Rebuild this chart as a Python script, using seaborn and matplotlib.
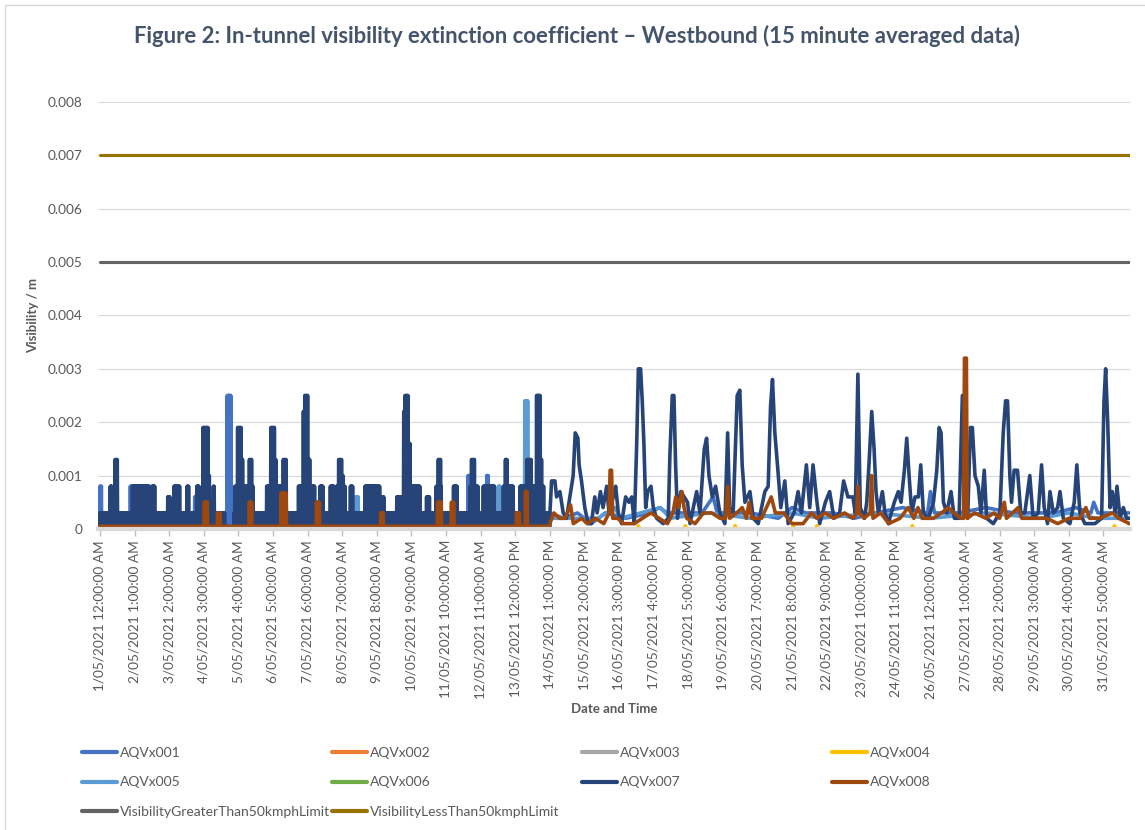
import matplotlib.pyplot as plt
import numpy as np
import pandas as pd
import seaborn as sns
from matplotlib.lines import Line2D
from matplotlib.patches import Rectangle

START = pd.Timestamp("2021-05-01 00:00")
STEP_HOURS = 0.25          # 15 minute averages
END_HOUR = 743.75          # last sample, 31/05 11:45 PM
SWITCH_HOUR = 325          # coarse (quantised) logging before this hour
TICK_EVERY_HOURS = 25      # Excel category axis: label every 100 points
N_TICKS = 30

SERIES_NAMES = ["AQVx001", "AQVx002", "AQVx003", "AQVx004",
                "AQVx005", "AQVx006", "AQVx007", "AQVx008"]
SERIES_COLORS = ["#4472C4", "#ED7D31", "#A5A5A5", "#FFC000",
                 "#5B9BD5", "#70AD47", "#264478", "#9E480E"]
LIMIT_NAMES = ["VisibilityGreaterThan50kmphLimit", "VisibilityLessThan50kmphLimit"]
LIMIT_VALUES = [0.005, 0.007]
LIMIT_COLORS = ["#636363", "#997300"]

# early period: readings flicker between a low value and the level below
# (base level, low level, [(start hour, end hour, level)])
AQV001_EARLY = (0.0003, 0.0, [
    (0.0, 1.5, 0.0008), (21.7, 23.4, 0.0008), (68.5, 70.0, 0.0006),
    (92.0, 95.0, 0.0025), (266.0, 268.0, 0.0010), (279.4, 281.0, 0.0010),
])
AQV005_EARLY = (0.0, 0.0, [
    (185.0, 186.6, 0.0006), (287.6, 289.5, 0.0008), (307.0, 309.5, 0.0024),
])
AQV007_EARLY = (0.0003, 0.0, [
    (7.2, 8.7, 0.0008), (10.8, 12.8, 0.0013), (23.4, 36.0, 0.0008),
    (37.3, 39.7, 0.0008), (48.9, 51.0, 0.0006), (53.5, 57.8, 0.0008),
    (62.6, 64.5, 0.0008), (69.8, 71.7, 0.0008), (74.5, 78.2, 0.0019),
    (78.2, 79.5, 0.0010), (81.9, 83.0, 0.0008), (90.5, 97.0, 0.0),
    (97.5, 99.2, 0.0008), (99.2, 102.4, 0.0019), (102.4, 103.5, 0.0013),
    (103.5, 107.9, 0.0008), (107.9, 109.6, 0.0013), (109.6, 110.8, 0.0008),
    (120.4, 123.5, 0.0008), (123.5, 126.4, 0.0019), (126.4, 127.5, 0.0013),
    (127.5, 131.3, 0.0008), (132.5, 134.8, 0.0013), (143.3, 146.8, 0.0008),
    (146.8, 148.0, 0.0022), (148.0, 150.5, 0.0025), (150.5, 152.0, 0.0013),
    (152.0, 155.3, 0.0008), (159.0, 161.4, 0.0008), (166.2, 169.3, 0.0008),
    (171.0, 172.2, 0.0008), (172.2, 174.6, 0.0013), (174.6, 176.0, 0.0010),
    (176.0, 177.5, 0.0008), (180.6, 183.0, 0.0008), (191.5, 202.3, 0.0008),
    (203.5, 205.2, 0.0006), (214.4, 219.2, 0.0006), (219.2, 220.4, 0.0022),
    (220.4, 222.8, 0.0025), (222.8, 224.4, 0.0016), (224.4, 231.2, 0.0008),
    (236.0, 238.4, 0.0006), (242.8, 244.4, 0.0008), (244.4, 246.1, 0.0013),
    (246.1, 246.8, 0.0008), (255.3, 258.1, 0.0008), (267.3, 268.5, 0.0008),
    (268.5, 270.9, 0.0013), (270.9, 273.4, 0.0008), (277.0, 285.4, 0.0008),
    (291.4, 292.6, 0.0008), (292.6, 294.5, 0.0013), (294.5, 298.6, 0.0008),
    (303.5, 308.3, 0.0008), (308.3, 311.9, 0.0013), (311.9, 315.5, 0.0008),
    (315.5, 318.4, 0.0025), (318.4, 319.5, 0.0013), (319.5, 321.0, 0.0008),
])
AQV008_EARLY = (0.00005, 0.00005, [
    (75.5, 78.0, 0.0005), (84.8, 86.7, 0.0003), (108.0, 109.6, 0.0005),
    (131.0, 134.8, 0.00067), (156.5, 159.0, 0.0005), (203.0, 204.7, 0.0003),
    (244.0, 247.0, 0.0005), (254.0, 256.0, 0.0005), (301.0, 303.5, 0.0003),
    (307.5, 309.0, 0.0007),
])
FLAT_EARLY = (0.0, 0.0, [])

# later period: (hour, value) readings
AQV001_LATE = [
    (325, 0.0003), (335, 0.0002), (345, 0.0003), (355, 0.0001), (365, 0.0003),
    (380, 0.0002), (398, 0.0003), (404, 0.0004), (410, 0.0003), (435, 0.0003),
    (443, 0.0006), (446, 0.0003), (470, 0.0003), (490, 0.0002), (500, 0.0004),
    (510, 0.0003), (530, 0.0003), (545, 0.0002), (560, 0.0003), (580, 0.0004),
    (598, 0.0003), (600, 0.0007), (603, 0.0003), (620, 0.0003), (640, 0.0004),
    (660, 0.0003), (690, 0.0003), (705, 0.0004), (716, 0.0003), (718, 0.0005),
    (721, 0.0003), (743.75, 0.0003),
]
AQV004_LATE = [
    (325, 0.0), (388, 0.0), (389, 0.00006), (390, 0.0), (422, 0.0),
    (423, 0.00006), (424, 0.0), (458, 0.0), (459, 0.00006), (460, 0.0),
    (500, 0.0), (501, 0.00006), (502, 0.0), (517, 0.0), (518, 0.00006),
    (519, 0.0), (586, 0.0), (587, 0.00006), (588, 0.0), (732, 0.0),
    (733, 0.00006), (734, 0.0), (743.75, 0.0),
]
AQV005_LATE = [
    (325, 0.0002), (360, 0.0002), (372, 0.0004), (376, 0.0002), (405, 0.0004),
    (412, 0.0002), (440, 0.0003), (470, 0.0002), (500, 0.0003), (520, 0.0002),
    (560, 0.0003), (600, 0.0002), (640, 0.0003), (680, 0.0002), (700, 0.0003),
    (720, 0.0002), (743.75, 0.0002),
]
AQV007_LATE = [
    (325.1, 0.0003), (326.3, 0.0009), (328.7, 0.0009), (329.9, 0.0006),
    (332.3, 0.0007), (334.7, 0.0003), (337.1, 0.0002), (340.7, 0.0008),
    (341.9, 0.0010), (343.4, 0.0018), (345.3, 0.0017), (346.2, 0.0012),
    (347.9, 0.0009), (350.3, 0.0004), (352.7, 0.0001), (355.1, 0.0001),
    (357.5, 0.0006), (359.2, 0.0003), (361.6, 0.0007), (363.5, 0.0004),
    (366.1, 0.0008), (367.8, 0.0003), (370.9, 0.0006), (372.6, 0.0008),
    (374.5, 0.0003), (376.9, 0.0001), (379.8, 0.0006), (382.2, 0.0005),
    (384.2, 0.0006), (386.1, 0.0001), (387.8, 0.0016), (389.0, 0.0030),
    (390.6, 0.0030), (391.8, 0.0024), (393.0, 0.0016), (394.3, 0.0004),
    (395.7, 0.0007), (398.1, 0.0008), (399.8, 0.0004), (402.2, 0.0002),
    (407.0, 0.0001), (410.6, 0.0002), (411.8, 0.0014), (413.5, 0.0025),
    (414.7, 0.0025), (415.9, 0.0012), (417.3, 0.0002), (419.7, 0.0007),
    (422.1, 0.0006), (424.5, 0.0005), (426.3, 0.0001), (431.1, 0.0007),
    (433.5, 0.0003), (436.6, 0.0015), (438.3, 0.0017), (440.0, 0.0010),
    (442.4, 0.0006), (444.8, 0.0008), (447.9, 0.0003), (451.5, 0.0001),
    (453.5, 0.0018), (454.9, 0.0004), (457.5, 0.0003), (460.4, 0.0025),
    (462.3, 0.0026), (464.0, 0.0012), (466.0, 0.0005), (469.6, 0.0007),
    (472.0, 0.0002), (475.6, 0.0001), (480.4, 0.0007), (482.8, 0.0008),
    (484.5, 0.0023), (485.9, 0.0028), (487.6, 0.0018), (489.5, 0.0012),
    (491.9, 0.0004), (494.8, 0.0009), (497.2, 0.0001), (501.5, 0.0003),
    (504.4, 0.0007), (506.8, 0.0003), (510.4, 0.0012), (512.8, 0.0004),
    (515.2, 0.0012), (517.6, 0.0006), (520.0, 0.0001), (524.1, 0.0005),
    (527.2, 0.0007), (530.3, 0.0002), (534.4, 0.0003), (537.3, 0.0009),
    (540.4, 0.0006), (544.0, 0.0006), (545.7, 0.0003), (547.6, 0.0029),
    (549.3, 0.0004), (552.4, 0.0002), (554.0, 0.0005), (555.6, 0.0012),
    (557.6, 0.0022), (559.3, 0.0015), (560.7, 0.0007), (562.4, 0.0003),
    (565.3, 0.0007), (567.2, 0.0003), (569.6, 0.0001), (573.9, 0.0005),
    (576.8, 0.0007), (578.8, 0.0005), (581.2, 0.0011), (582.9, 0.0017),
    (584.6, 0.0010), (586.5, 0.0003), (588.9, 0.0006), (591.3, 0.0006),
    (593.0, 0.0012), (594.9, 0.0003), (598.6, 0.0002), (602.2, 0.0005),
    (604.6, 0.0011), (606.3, 0.0019), (607.7, 0.0018), (609.4, 0.0005),
    (611.8, 0.0003), (614.9, 0.0007), (617.3, 0.0002), (620.7, 0.0002),
    (623.1, 0.0025), (624.5, 0.0005), (626.9, 0.0002), (628.9, 0.0019),
    (630.3, 0.0019), (632.2, 0.0010), (634.6, 0.0008), (636.5, 0.0003),
    (638.9, 0.0011), (640.6, 0.0002), (645.4, 0.0001), (650.2, 0.0003),
    (652.6, 0.0018), (654.3, 0.0024), (655.7, 0.0024), (657.4, 0.0010),
    (658.6, 0.0005), (660.5, 0.0011), (662.9, 0.0011), (665.3, 0.0003),
    (668.2, 0.0003), (671.8, 0.0010), (674.2, 0.0002), (677.9, 0.0003),
    (680.3, 0.0012), (682.2, 0.0004), (684.6, 0.0001), (686.4, 0.0007),
    (688.8, 0.0003), (691.9, 0.0004), (693.6, 0.0007), (696.0, 0.0002),
    (700.8, 0.0001), (703.9, 0.0005), (705.8, 0.0012), (708.0, 0.0003),
    (711.6, 0.0001), (718.9, 0.0001), (723.7, 0.0002), (725.4, 0.0024),
    (726.6, 0.0030), (728.1, 0.0020), (729.8, 0.0004), (731.4, 0.0007),
    (733.4, 0.0003), (734.8, 0.0008), (737.0, 0.0002), (739.4, 0.0004),
    (741.8, 0.0002), (743.75, 0.0002),
]
AQV008_LATE = [
    (325, 0.0001), (328, 0.0003), (332, 0.0002), (336, 0.0002), (340, 0.00045),
    (342, 0.0001), (348, 0.0002), (352, 0.0001), (358, 0.0002), (364, 0.0001),
    (367.8, 0.0003), (368.6, 0.0011), (369.6, 0.0011), (370.5, 0.0002),
    (374, 0.0002), (378, 0.0001), (386, 0.0001), (392, 0.0002), (398, 0.0003),
    (404, 0.0002), (410, 0.0001), (414, 0.0003), (416, 0.0006), (418, 0.0004),
    (420.5, 0.0007), (422, 0.0004), (424, 0.0002), (430, 0.0001), (436, 0.0003),
    (442, 0.0003), (448, 0.0002), (452, 0.0002), (453.5, 0.0008), (455, 0.0002),
    (460, 0.0003), (464, 0.0004), (467, 0.0002), (469, 0.0005), (471, 0.0002),
    (478, 0.0002), (485, 0.0006), (488, 0.0003), (494, 0.0003), (500, 0.0001),
    (508, 0.0001), (514, 0.0003), (518, 0.0002), (524, 0.0003), (530, 0.0002),
    (538, 0.0003), (544, 0.0002), (546.8, 0.0003), (547.6, 0.0008),
    (548.6, 0.0003), (552, 0.0002), (556.5, 0.0003), (557.5, 0.0010),
    (558.5, 0.0002), (564, 0.0003), (570, 0.0001), (578, 0.0002), (584, 0.0004),
    (588, 0.0002), (591, 0.0004), (594, 0.0002), (602, 0.0002), (608, 0.0003),
    (613, 0.0004), (617, 0.0003), (622, 0.0002), (624, 0.0002), (624.6, 0.0032),
    (626, 0.0032), (626.6, 0.0002), (632, 0.0003), (640, 0.0002), (646, 0.0003),
    (650, 0.0002), (653.4, 0.0005), (655, 0.0002), (663.4, 0.0004),
    (666, 0.0002), (675, 0.0002), (684, 0.0002), (692, 0.0001), (700, 0.0002),
    (708, 0.0002), (712.3, 0.0004), (715, 0.0002), (722, 0.0002),
    (731.7, 0.0003), (736, 0.0002), (743.75, 0.0001),
]
FLAT_LATE = [(325, 0.0), (743.75, 0.0)]

EARLY_DATA = [AQV001_EARLY, FLAT_EARLY, FLAT_EARLY, FLAT_EARLY,
              AQV005_EARLY, FLAT_EARLY, AQV007_EARLY, AQV008_EARLY]
LATE_DATA = [AQV001_LATE, FLAT_LATE, FLAT_LATE, AQV004_LATE,
             AQV005_LATE, FLAT_LATE, AQV007_LATE, AQV008_LATE]

TEXT_COLOR = "#595959"
TITLE_COLOR = "#44546A"
FONT = ["Lato", "DejaVu Sans"]


def early_readings(base, low, steps):
    """15 minute readings of the quantised period."""
    hours = np.arange(0, SWITCH_HOUR, STEP_HOURS)
    high = np.full(hours.size, base)
    for start, end, level in steps:
        high[(hours >= start) & (hours < end)] = level
    values = high.copy()
    values[1::2] = low
    return hours, values


def series_frame(early, late) -> pd.DataFrame:
    hours, values = early_readings(*early)
    late_h = np.array([h for h, _ in late])
    late_v = np.array([v for _, v in late])
    hours = np.concatenate([hours, late_h])
    values = np.concatenate([values, late_v])
    return pd.DataFrame({"time": START + pd.to_timedelta(hours, unit="h"),
                         "value": values})


def excel_label(t: pd.Timestamp) -> str:
    hour12 = t.hour % 12 or 12
    suffix = "AM" if t.hour < 12 else "PM"
    return f"{t.day}/{t.month:02d}/{t.year} {hour12}:{t.minute:02d}:{t.second:02d} {suffix}"


def main() -> None:
    sns.set_theme(style="white")
    plt.rcParams["font.family"] = FONT

    fig = plt.figure(figsize=(11.45, 8.3), dpi=100)
    ax = fig.add_axes([0.0856, 0.3627, 0.9013, 0.5145])

    for name, color, early, late in zip(SERIES_NAMES, SERIES_COLORS, EARLY_DATA, LATE_DATA):
        df = series_frame(early, late)
        sns.lineplot(data=df, x="time", y="value", color=color, linewidth=2.6,
                     estimator=None, sort=False, ax=ax)

    limit_times = START + pd.to_timedelta([0, END_HOUR], unit="h")
    for value, color in zip(LIMIT_VALUES, LIMIT_COLORS):
        sns.lineplot(x=limit_times, y=[value, value], color=color, linewidth=2.25,
                     estimator=None, ax=ax)

    ax.set_xlim(START - pd.Timedelta(hours=1.4), START + pd.Timedelta(hours=744.2))
    ax.set_ylim(0, 0.008)

    ticks = START + pd.to_timedelta(np.arange(N_TICKS) * TICK_EVERY_HOURS, unit="h")
    ax.set_xticks(ticks)
    ax.set_xticklabels([excel_label(t) for t in ticks], rotation=90, ha="center", va="top")
    yt = np.arange(0, 0.0081, 0.001)
    ax.set_yticks(yt)
    ax.set_yticklabels(["0"] + [f"{v:.3f}" for v in yt[1:]])

    ax.grid(axis="y", color="#D9D9D9", linewidth=0.8)
    ax.grid(axis="x", visible=False)
    ax.set_axisbelow(True)
    for side in ["top", "right", "left"]:
        ax.spines[side].set_visible(False)
    ax.spines["bottom"].set_color("#D9D9D9")
    ax.spines["bottom"].set_linewidth(3)
    ax.tick_params(axis="x", length=5, width=1, color="#BFBFBF", labelsize=9.8,
                   labelcolor=TEXT_COLOR, pad=3, bottom=True)
    ax.tick_params(axis="y", length=0, labelsize=9.8, labelcolor=TEXT_COLOR, pad=11)

    ax.set_xlabel("Date and Time", fontsize=9.5, fontweight="bold", color=TEXT_COLOR,
                  labelpad=3)
    ax.set_ylabel("Visibility / m", fontsize=9.5, fontweight="bold", color=TEXT_COLOR,
                  labelpad=6)
    fig.text(0.504, 0.957, "Figure 2: In-tunnel visibility extinction coefficient \u2013 "
             "Westbound (15 minute averaged data)", ha="center", va="center",
             fontsize=15.9, fontweight="bold", color=TITLE_COLOR)

    # legend: Excel lays entries out in fixed-width columns
    names = SERIES_NAMES + LIMIT_NAMES
    colors = SERIES_COLORS + LIMIT_COLORS
    columns = [[0, 4, 8], [1, 5, 9], [2, 6], [3, 7]]
    for col, idx in enumerate(columns):
        handles = [Line2D([], [], color=colors[i], linewidth=3) for i in idx]
        labels = [names[i] for i in idx]
        fig.legend(handles, labels, loc="upper left",
                   bbox_to_anchor=((82 + 250 * col) / 1145, 1 - 747 / 830),
                   frameon=False, fontsize=10, handlelength=2.5, handletextpad=0.2,
                   borderpad=0, borderaxespad=0, labelspacing=1.25,
                   labelcolor=TEXT_COLOR)

    fig.patches.append(Rectangle((0.004, -0.01), 1.1, 1.004, transform=fig.transFigure,
                                 fill=False, edgecolor="#D9D9D9", linewidth=1))

    fig.savefig("out.png", dpi=100)
    plt.close(fig)


if __name__ == "__main__":
    main()
